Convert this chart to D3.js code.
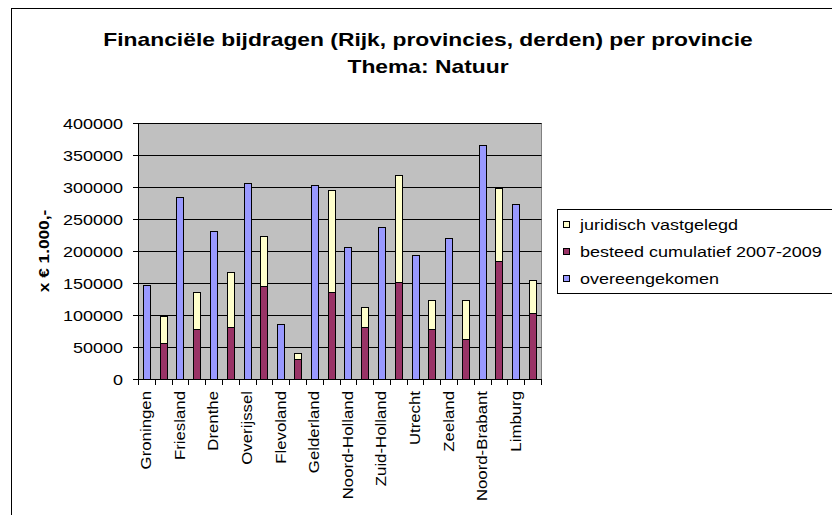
<!DOCTYPE html>
<html>
<head>
<meta charset="utf-8">
<script src="https://cdn.jsdelivr.net/npm/d3@7"></script>
<style>
  body { margin: 0; background: #fff; }
  svg { display: block; font-family: "Liberation Sans", Arial, sans-serif; }
</style>
</head>
<body>
<div id="chart"></div>
<script>
// Data (x € 1.000,-)
const provinces = ['Groningen', 'Friesland', 'Drenthe', 'Overijssel', 'Flevoland', 'Gelderland',
  'Noord-Holland', 'Zuid-Holland', 'Utrecht', 'Zeeland', 'Noord-Brabant', 'Limburg'];
const overeengekomen = [147000, 284000, 232000, 307000, 86000, 303000, 207000, 238000, 193000, 220000, 366000, 273000];
const besteed        = [57000, 78000, 82000, 146000, 32000, 136000, 82000, 151000, 78000, 63000, 184000, 103000];
const juridisch      = [42000, 58000, 85000, 77000, 9000, 160000, 30000, 168000, 46000, 61000, 114000, 52000];
const yTicks = [0, 50000, 100000, 150000, 200000, 250000, 300000, 350000, 400000];
const legendLabels = ['juridisch vastgelegd', 'besteed cumulatief 2007-2009', 'overeengekomen'];

const COLORS = { overeengekomen: '#9999ff', besteed: '#993366', juridisch: '#ffffcc' };
const legendColors = [COLORS.juridisch, COLORS.besteed, COLORS.overeengekomen];

const W = 832, H = 515;
const PLOT = { left: 138, top: 123, right: 541, bottom: 379 };
const WF = 1.2; // text in the reference renders wider than Liberation Sans

const svg = d3.select('#chart').append('svg')
  .attr('width', W).attr('height', H);

// chart area border (runs off the right / bottom edge)
svg.append('rect')
  .attr('x', 11.5).attr('y', 8.5).attr('width', W + 20).attr('height', H + 20)
  .attr('fill', '#fff').attr('stroke', '#000');

// Title
const title = svg.append('g').attr('font-weight', 'bold').attr('font-size', 18).attr('fill', '#000');
const t1 = title.append('text').attr('text-anchor', 'middle')
  .text('Financiële bijdragen (Rijk, provincies, derden) per provincie');
const tScale = 650 / t1.node().getComputedTextLength();
t1.attr('transform', `translate(428,46) scale(${tScale},1)`);
title.append('text').attr('text-anchor', 'middle')
  .attr('transform', `translate(428,73) scale(${tScale},1)`)
  .text('Thema: Natuur');

// Scales
const y = d3.scaleLinear().domain([0, 400000]).range([PLOT.bottom, PLOT.top]);
const slots = d3.range(provinces.length * 2);
const xCat = d3.scaleBand().domain(slots).range([PLOT.left, PLOT.right]);
const xBar = d3.scaleBand().domain(slots).range([PLOT.left, PLOT.right])
  .paddingInner(0.58).paddingOuter(0.29);

// Plot background
svg.append('rect')
  .attr('x', PLOT.left + 0.5).attr('y', PLOT.top + 0.5)
  .attr('width', PLOT.right - PLOT.left).attr('height', PLOT.bottom - PLOT.top)
  .attr('fill', '#c0c0c0').attr('stroke', '#808080');

// Gridlines
svg.append('g').selectAll('line')
  .data(yTicks.filter(d => d > 0))
  .join('line')
    .attr('x1', PLOT.left).attr('x2', PLOT.right + 0.5)
    .attr('y1', d => Math.round(y(d)) + 0.5).attr('y2', d => Math.round(y(d)) + 0.5)
    .attr('stroke', '#000');

// Bars
const rows = provinces.map((p, i) => ({ i, besteed: besteed[i], juridisch: juridisch[i] }));
const stacked = d3.stack().keys(['besteed', 'juridisch'])(rows);

const px = v => Math.round(v) + 0.5;
const bw = Math.round(xBar.bandwidth());

svg.append('g').selectAll('rect')
  .data(overeengekomen)
  .join('rect')
    .attr('x', (d, i) => px(xBar(2 * i)))
    .attr('y', d => px(y(d)))
    .attr('width', bw)
    .attr('height', d => Math.round(y(0)) - Math.round(y(d)))
    .attr('fill', COLORS.overeengekomen)
    .attr('stroke', '#000');

svg.append('g').selectAll('g')
  .data(stacked)
  .join('g')
    .attr('fill', s => COLORS[s.key])
  .selectAll('rect')
  .data(s => s)
  .join('rect')
    .attr('x', d => px(xBar(2 * d.data.i + 1)))
    .attr('y', d => px(y(d[1])))
    .attr('width', bw)
    .attr('height', d => Math.round(y(d[0])) - Math.round(y(d[1])))
    .attr('stroke', '#000');

// Y axis
const yAxis = svg.append('g')
  .attr('transform', `translate(${PLOT.left},0)`)
  .call(d3.axisLeft(y).tickValues(yTicks).tickSize(5).tickSizeOuter(0).tickFormat(d => d));
yAxis.select('.domain').attr('stroke', '#000');
yAxis.selectAll('.tick line').attr('stroke', '#000');
yAxis.selectAll('.tick text')
  .attr('x', 0).attr('dy', '0.35em')
  .attr('transform', `translate(-15,0) scale(${WF},1)`)
  .attr('font-size', 15).attr('font-family', null).attr('fill', '#000');

// X axis line, ticks between categories, labels on every other slot
svg.append('line')
  .attr('x1', PLOT.left).attr('x2', PLOT.right + 1)
  .attr('y1', PLOT.bottom + 0.5).attr('y2', PLOT.bottom + 0.5)
  .attr('stroke', '#000');

svg.append('g').selectAll('line')
  .data(d3.range(slots.length + 1))
  .join('line')
    .attr('x1', i => px(i < slots.length ? xCat(i) : PLOT.right))
    .attr('x2', i => px(i < slots.length ? xCat(i) : PLOT.right))
    .attr('y1', PLOT.bottom).attr('y2', PLOT.bottom + 6)
    .attr('stroke', '#000');

svg.append('g').selectAll('text')
  .data(provinces)
  .join('text')
    .attr('transform', (d, i) =>
      `translate(${xCat(2 * i) + xCat.bandwidth() / 2},391) rotate(-90) scale(${WF},1)`)
    .attr('text-anchor', 'end')
    .attr('dy', '0.35em')
    .attr('font-size', 14)
    .attr('fill', '#000')
    .text(d => d);

// Y axis title
svg.append('text')
  .attr('transform', `translate(44,${(PLOT.top + PLOT.bottom) / 2}) rotate(-90) scale(1.15,1)`)
  .attr('text-anchor', 'middle')
  .attr('dy', '0.35em')
  .attr('font-size', 15)
  .attr('font-weight', 'bold')
  .text('x € 1.000,-');

// Legend
const legend = svg.append('g');
legend.append('rect')
  .attr('x', 557.5).attr('y', 209.5).attr('width', 320).attr('height', 84)
  .attr('fill', '#fff').attr('stroke', '#000');

const items = legend.selectAll('g.item')
  .data(legendLabels)
  .join('g')
    .attr('class', 'item')
    .attr('transform', (d, i) => `translate(0,${225 + i * 27})`);

items.append('rect')
  .attr('x', 563.5).attr('y', -3.5).attr('width', 6).attr('height', 6)
  .attr('fill', (d, i) => legendColors[i]).attr('stroke', '#000');

items.append('text')
  .attr('transform', `translate(580,0) scale(${WF},1)`)
  .attr('dy', '0.35em')
  .attr('font-size', 15)
  .attr('fill', '#000')
  .text(d => d);
</script>
</body>
</html>
